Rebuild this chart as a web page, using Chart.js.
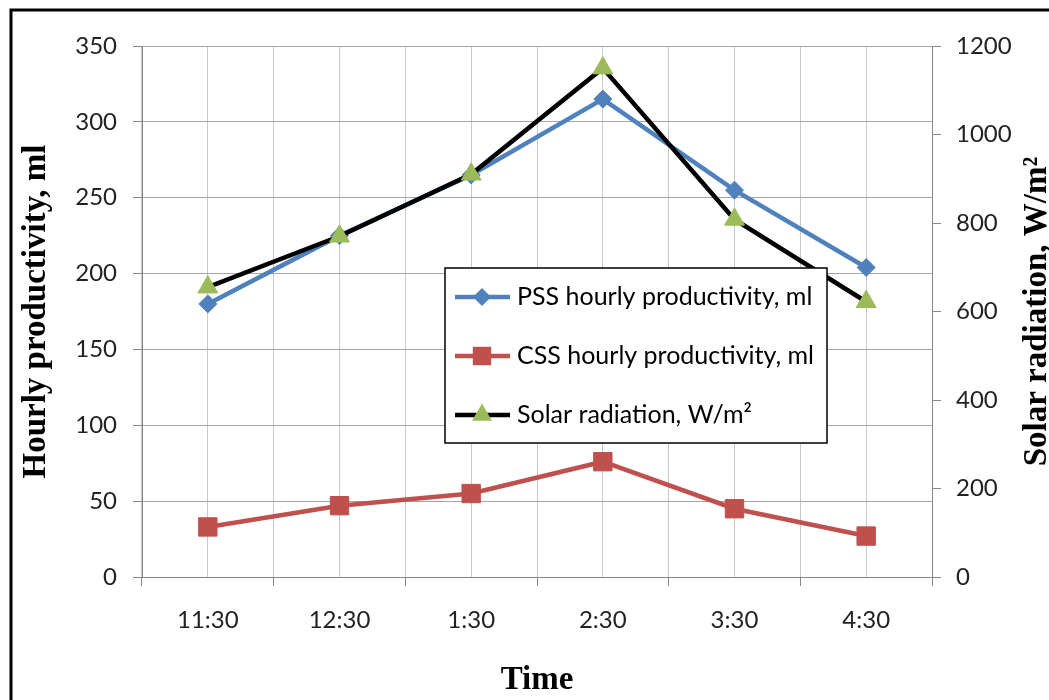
<!DOCTYPE html>
<html>
<head>
<meta charset="utf-8">
<title>Hourly productivity and solar radiation</title>
<script src="https://cdn.jsdelivr.net/npm/chart.js@4.4.1/dist/chart.umd.min.js"></script>
<style>
    html, body { margin: 0; padding: 0; background: #fff; }
    canvas { display: block; }
</style>
</head>
<body>
<canvas id="myChart" width="1049" height="700"></canvas>
<script>
// values
const timeLabels = ['11:30', '12:30', '1:30', '2:30', '3:30', '4:30'];
const pssValues = [180, 225, 265, 315, 255, 204];     // ml, left axis
const cssValues = [33, 47, 55, 76, 45, 27];           // ml, left axis
const solarValues = [655, 770, 910, 1150, 808, 622];  // W/m2, right axis

const leftMax = 350, leftStep = 50;
const rightMax = 1200, rightStep = 200;

const tickFont = { family: 'Lato', size: 24 };
const titleFont = { family: 'Liberation Serif', size: 33, weight: 'bold', lineHeight: 1.2 };
const axisGray = '#868686';

// black frame round the picture
const framePlugin = {
    id: 'frame',
    beforeDraw(chart) {
        const ctx = chart.ctx;
        ctx.save();
        ctx.fillStyle = '#fff';
        ctx.fillRect(0, 0, chart.width, chart.height);
        ctx.strokeStyle = '#000';
        ctx.lineWidth = 3;
        ctx.beginPath();
        ctx.moveTo(chart.width, 10);
        ctx.lineTo(11, 10);
        ctx.lineTo(11, chart.height);
        ctx.stroke();
        ctx.restore();
    }
};

// right axis title reads bottom to top, like the left one
const rightTitlePlugin = {
    id: 'rightTitle',
    afterDraw(chart) {
        const ctx = chart.ctx;
        const area = chart.chartArea;
        ctx.save();
        ctx.translate(1037, (area.top + area.bottom) / 2);
        ctx.rotate(-Math.PI / 2);
        ctx.font = 'bold 33px "Liberation Serif"';
        ctx.fillStyle = '#000';
        ctx.textAlign = 'center';
        ctx.textBaseline = 'middle';
        ctx.fillText('Solar radiation, W/m\u00B2', 0, 0);
        ctx.restore();
    }
};

function drawMarker(ctx, style, x, y, r, color) {
    ctx.fillStyle = color;
    ctx.beginPath();
    if (style === 'rectRot') {
        ctx.moveTo(x, y - r);
        ctx.lineTo(x + r, y);
        ctx.lineTo(x, y + r);
        ctx.lineTo(x - r, y);
    } else if (style === 'rect') {
        const s = r * Math.SQRT1_2;
        ctx.rect(x - s, y - s, 2 * s, 2 * s);
    } else {
        ctx.moveTo(x, y - r);
        ctx.lineTo(x + r * Math.sqrt(3) / 2, y + r / 2);
        ctx.lineTo(x - r * Math.sqrt(3) / 2, y + r / 2);
    }
    ctx.closePath();
    ctx.fill();
}

// legend box inside the plot, Excel style
const boxLegendPlugin = {
    id: 'boxLegend',
    afterDatasetsDraw(chart) {
        const ctx = chart.ctx;
        const box = { x: 445, y: 268, w: 382, h: 175 };
        ctx.save();
        ctx.fillStyle = '#fff';
        ctx.fillRect(box.x, box.y, box.w, box.h);
        ctx.strokeStyle = '#000';
        ctx.lineWidth = 1.5;
        ctx.strokeRect(box.x, box.y, box.w, box.h);

        chart.data.datasets.forEach((ds, i) => {
            const y = box.y + 29 + i * 59;
            ctx.strokeStyle = ds.borderColor;
            ctx.lineWidth = ds.borderWidth;
            ctx.beginPath();
            ctx.moveTo(455, y);
            ctx.lineTo(510, y);
            ctx.stroke();
            drawMarker(ctx, ds.pointStyle, 482, y, ds.pointRadius, ds.pointBackgroundColor);
            ctx.fillStyle = '#000';
            ctx.font = '25px Lato';
            ctx.textAlign = 'left';
            ctx.textBaseline = 'middle';
            ctx.fillText(ds.label, 517, y);
        });
        ctx.restore();
    }
};

const ctx1 = document.getElementById('myChart').getContext('2d');

new Chart(ctx1, {
    type: 'line',
    data: {
        labels: timeLabels,
        datasets: [{
            label: 'PSS hourly productivity, ml',
            data: pssValues,
            yAxisID: 'y',
            borderColor: '#4F81BD',
            borderWidth: 4.5,
            pointStyle: 'rectRot',
            pointRadius: 9,
            pointBackgroundColor: '#4F81BD',
            pointBorderColor: '#4F81BD',
            pointBorderWidth: 1,
            tension: 0,
            order: 3
        }, {
            label: 'CSS hourly productivity, ml',
            data: cssValues,
            yAxisID: 'y',
            borderColor: '#C0504D',
            borderWidth: 4.5,
            pointStyle: 'rect',
            pointRadius: 13,
            pointBackgroundColor: '#C0504D',
            pointBorderColor: '#C0504D',
            pointBorderWidth: 1,
            tension: 0,
            order: 2
        }, {
            label: 'Solar radiation, W/m\u00B2',
            data: solarValues,
            yAxisID: 'y1',
            borderColor: '#000000',
            borderWidth: 4.5,
            pointStyle: 'triangle',
            pointRadius: 11.5,
            pointBackgroundColor: '#9BBB59',
            pointBorderColor: '#9BBB59',
            pointBorderWidth: 1,
            tension: 0,
            order: 1
        }]
    },
    options: {
        responsive: false,
        animation: false,
        layout: {
            padding: { top: 46, left: 0, right: 0, bottom: 0 }
        },
        plugins: {
            legend: { display: false },
            tooltip: { enabled: false }
        },
        scales: {
            x: {
                type: 'category',
                offset: true,
                grid: { offset: true, color: '#c8c8c8', tickColor: axisGray, tickLength: 9 },
                border: { color: axisGray, width: 1 },
                ticks: { color: '#222', font: tickFont, padding: 20 },
                title: {
                    display: true,
                    text: 'Time',
                    color: '#000',
                    font: titleFont,
                    padding: { top: 0, bottom: 0 }
                },
                afterFit: (scale) => { scale.height = 123; }
            },
            // second category axis only for the gridlines through each time
            x2: {
                type: 'category',
                position: 'bottom',
                offset: true,
                grid: { offset: false, color: '#c8c8c8', drawTicks: false },
                border: { display: false },
                ticks: { display: false },
                afterFit: (scale) => { scale.height = 0; }
            },
            y: {
                position: 'left',
                min: 0,
                max: leftMax,
                ticks: { stepSize: leftStep, color: '#222', font: tickFont, padding: 16,
                         callback: (v) => String(v) },
                grid: { color: '#a6a6a6', tickColor: axisGray, tickLength: 9 },
                border: { color: axisGray, width: 1 },
                title: {
                    display: true,
                    text: 'Hourly productivity, ml',
                    color: '#000',
                    font: titleFont,
                    padding: { top: 17, bottom: 0 }
                },
                afterFit: (scale) => { scale.width = 142; }
            },
            y1: {
                position: 'right',
                min: 0,
                max: rightMax,
                ticks: { stepSize: rightStep, color: '#222', font: tickFont, padding: 15,
                         callback: (v) => String(v) },  // no thousands comma
                grid: { drawOnChartArea: false, tickColor: axisGray, tickLength: 9 },
                border: { color: axisGray, width: 1 },
                afterFit: (scale) => { scale.width = 117; }
            }
        }
    },
    plugins: [framePlugin, boxLegendPlugin, rightTitlePlugin]
});
</script>
</body>
</html>
